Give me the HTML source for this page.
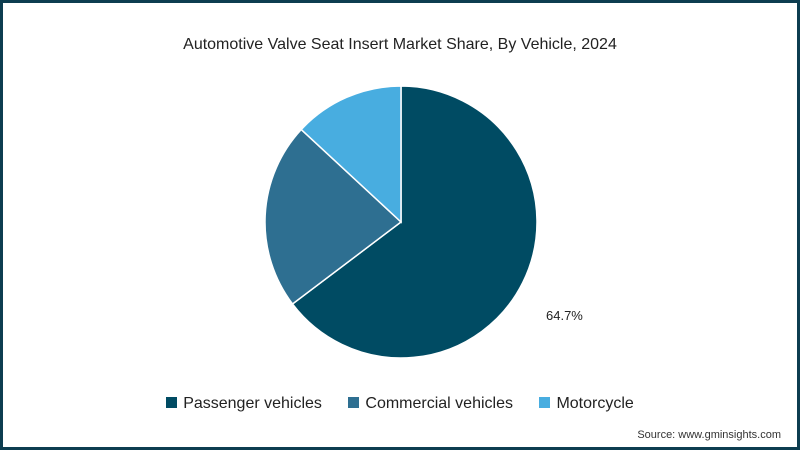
<!DOCTYPE html>
<html><head><meta charset="utf-8">
<style>
body{margin:0;background:#fff}
#frame{position:relative;width:800px;height:450px;box-sizing:border-box;border:3px solid #0d3d50;background:#fff;font-family:"Liberation Sans",sans-serif;overflow:hidden}
#title{position:absolute;top:33px;left:0;width:794px;text-align:center;font-size:16px;color:#222}
#legend{position:absolute;top:392px;left:0;width:794px;text-align:center;font-size:16px;color:#222}
.item{display:inline-block;margin:0 11px}
.sw{display:inline-block;width:11px;height:11px;margin-right:6px;vertical-align:0px}
#source{position:absolute;right:16px;top:426px;font-size:11px;color:#333}
</style></head><body>
<div id="frame">
<div id="title">Automotive Valve Seat Insert Market Share, By Vehicle, 2024</div>
<svg id="pie" width="794" height="444" style="position:absolute;left:0;top:0"></svg>
<div id="legend">
<span class="item"><span class="sw" style="background:#004b63"></span>Passenger vehicles</span>
<span class="item"><span class="sw" style="background:#2e6f91"></span>Commercial vehicles</span>
<span class="item"><span class="sw" style="background:#48ade0"></span>Motorcycle</span>
</div>
<div id="source">Source: www.gminsights.com</div>
</div>
<script>
const categories=["Passenger vehicles","Commercial vehicles","Motorcycle"];
const values=[64.7,22.2,13.1];
const labels=["64.7%","",""];
const colors=["#004b63","#2e6f91","#48ade0"];
const svg=document.getElementById('pie');
const NS="http://www.w3.org/2000/svg";
const cx=398,cy=219,r=136;
const total=values.reduce((a,b)=>a+b,0);
let a0=0;
function pt(a,rr){return [cx+rr*Math.sin(a),cy-rr*Math.cos(a)];}
values.forEach((v,i)=>{
 const a1=a0+v/total*2*Math.PI;
 const p0=pt(a0,r),p1=pt(a1,r);
 const large=(a1-a0)>Math.PI?1:0;
 const p=document.createElementNS(NS,'path');
 p.setAttribute('d',`M${cx},${cy}L${p0[0]},${p0[1]}A${r},${r} 0 ${large} 1 ${p1[0]},${p1[1]}Z`);
 p.setAttribute('fill',colors[i]);p.setAttribute('stroke','#fff');p.setAttribute('stroke-width','1.5');
 
 
 svg.appendChild(p);
 if(labels[i]){
  const t=document.createElementNS(NS,'text');
  t.setAttribute('x',cx+145);t.setAttribute('y',cy+98);
  t.setAttribute('font-size','13');t.setAttribute('fill','#222');
  t.setAttribute('font-family','Liberation Sans, sans-serif');
  t.textContent=labels[i];
  
  
  svg.appendChild(t);
 }
 a0=a1;
});
</script>
</body></html>
